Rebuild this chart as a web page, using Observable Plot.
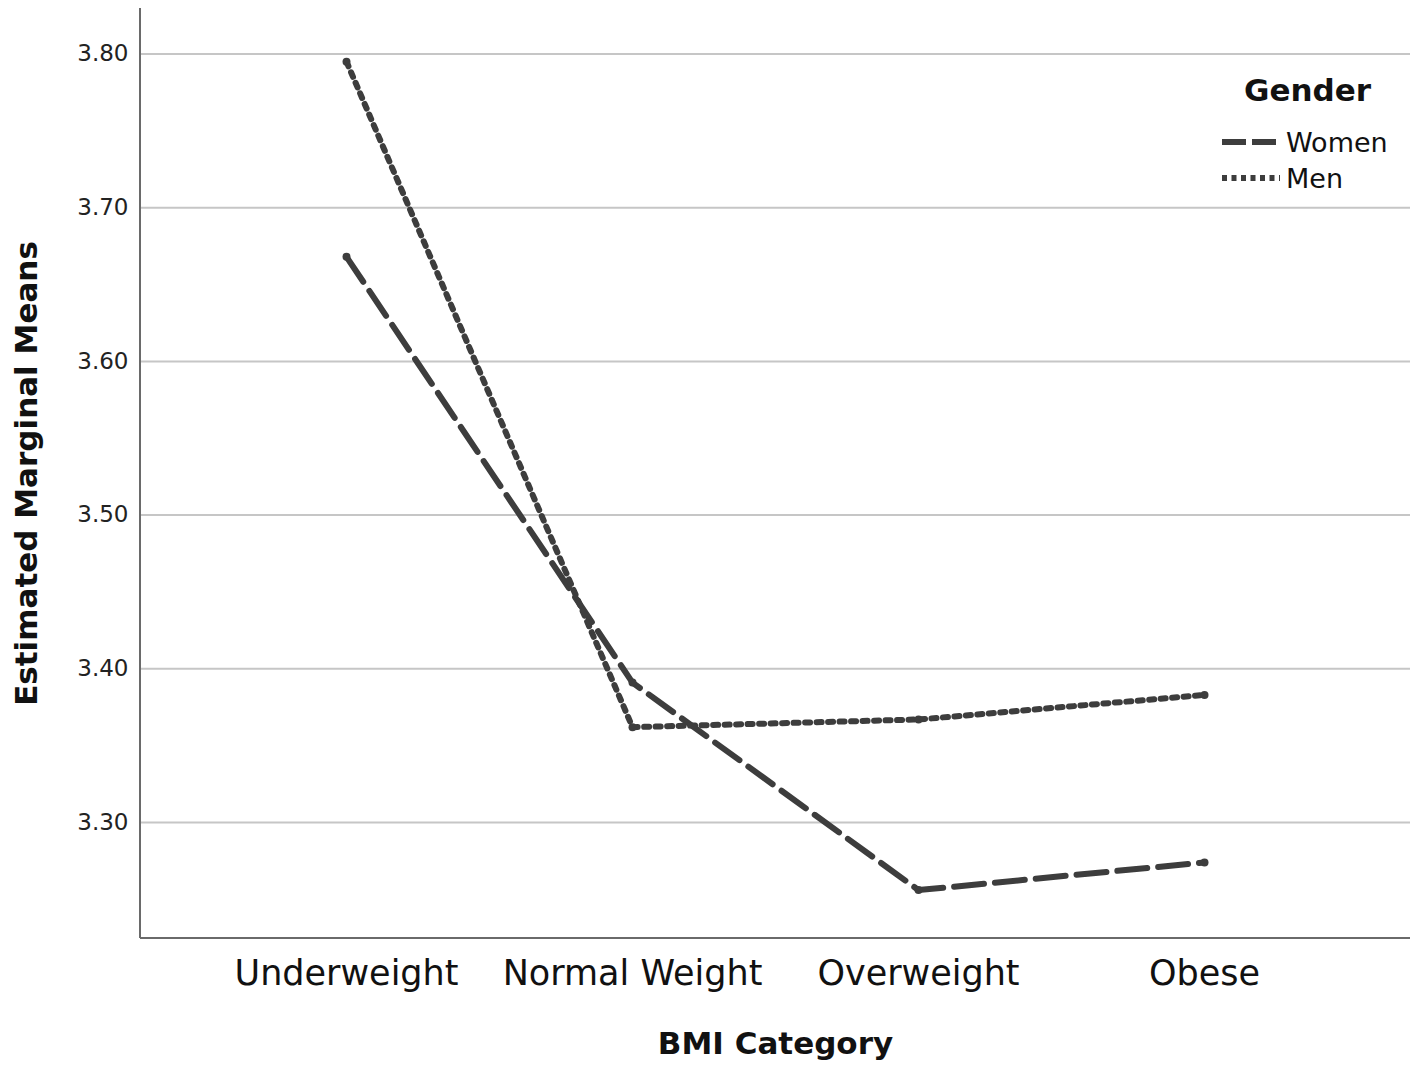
<!DOCTYPE html>
<html>
<head>
<meta charset="utf-8">
<script src="https://cdn.jsdelivr.net/npm/d3@7"></script>
<script src="https://cdn.jsdelivr.net/npm/@observablehq/plot@0.6"></script>
<style>
  html, body { margin: 0; padding: 0; background: #fff; }
  #wrap { position: relative; width: 1417px; height: 1071px; font-family: "DejaVu Sans", sans-serif; }
  #wrap svg { display: block; }
  g[aria-label="y-axis label"] text { font-weight: bold; font-size: 31px; fill: #111; }
  g[aria-label="x-axis label"] text { font-weight: bold; font-size: 31px; fill: #111; }
  #legend { position: absolute; left: 1220px; top: 72px; color: #111; }
  #legend .title { font-weight: bold; font-size: 31px; line-height: 36px; text-align: center; width: 175px; margin-bottom: 16px; }
  #legend .row { display: flex; align-items: center; height: 36px; font-size: 27px; }
  #legend svg { margin-right: 4px; }
</style>
</head>
<body>
<div id="wrap"></div>
<script>
const categories = ["Underweight", "Normal Weight", "Overweight", "Obese"];
const seriesNames = ["Women", "Men"];
const women = [3.668, 3.391, 3.256, 3.274];
const men = [3.795, 3.362, 3.367, 3.383];
const yTicks = [3.30, 3.40, 3.50, 3.60, 3.70, 3.80];
const yDomain = [3.2245, 3.8296];

const dashes = { Women: "30,11", Men: "5,6.5" };
const legendDashes = { Women: "24,6", Men: "5,4.5" };
const lineColor = "#3d3d3d";

const rows = [];
categories.forEach((c, i) => {
  rows.push({ cat: c, gender: "Women", value: women[i] });
  rows.push({ cat: c, gender: "Men", value: men[i] });
});

const axisLines = (index, scales, values, dims) => {
  const ns = "http://www.w3.org/2000/svg";
  const g = document.createElementNS(ns, "g");
  const mk = (x1, y1, x2, y2) => {
    const l = document.createElementNS(ns, "line");
    l.setAttribute("x1", x1); l.setAttribute("x2", x2);
    l.setAttribute("y1", y1); l.setAttribute("y2", y2);
    l.setAttribute("stroke", "#6a6a6a"); l.setAttribute("stroke-width", 2);
    g.appendChild(l);
  };
  mk(dims.marginLeft, dims.marginTop, dims.marginLeft, dims.height - dims.marginBottom);
  mk(dims.marginLeft, dims.height - dims.marginBottom, dims.width - dims.marginRight, dims.height - dims.marginBottom);
  return g;
};

const chart = Plot.plot({
  width: 1417,
  height: 1071,
  marginLeft: 140,
  marginRight: 7,
  marginTop: 8,
  marginBottom: 133,
  style: { fontFamily: "DejaVu Sans, sans-serif", background: "#fff", overflow: "visible" },
  x: { type: "point", domain: categories, padding: 0.7155 },
  y: { domain: yDomain },
  marks: [
    Plot.gridY(yTicks, { stroke: "#c6c6c6", strokeOpacity: 1, strokeWidth: 2 }),
    axisLines,
    Plot.axisY(yTicks, {
      tickSize: 0, tickPadding: 12, fontSize: 23, tickFormat: d3.format(".2f"),
      label: "Estimated Marginal Means", labelAnchor: "center", labelOffset: 126, color: "#222"
    }),
    Plot.axisX({
      tickSize: 0, tickPadding: 22, fontSize: 35,
      label: "BMI Category", labelAnchor: "center", labelOffset: 115, color: "#111"
    }),
    ...seriesNames.map(s => Plot.line(rows.filter(r => r.gender === s), {
      x: "cat", y: "value", stroke: lineColor, strokeWidth: 6,
      strokeDasharray: dashes[s], strokeLinejoin: "round"
    })),
    Plot.dot(rows, { x: "cat", y: "value", r: 4, fill: lineColor, stroke: "none" })
  ]
});

// strip automatic arrows from axis labels
chart.querySelectorAll('g[aria-label="y-axis label"] text, g[aria-label="x-axis label"] text').forEach(t => {
  t.textContent = t.textContent.replace(/\s*[↑↓→←]\s*/g, "").trim();
});

const wrap = document.getElementById("wrap");
wrap.appendChild(chart);

const legend = document.createElement("div");
legend.id = "legend";
legend.innerHTML = `<div class="title">Gender</div>` + seriesNames.map(s =>
  `<div class="row"><svg width="62" height="12"><line x1="2" x2="60" y1="6" y2="6" stroke="${lineColor}" stroke-width="6" stroke-dasharray="${legendDashes[s]}"/></svg><span>${s}</span></div>`
).join("");
wrap.appendChild(legend);
</script>
</body>
</html>
